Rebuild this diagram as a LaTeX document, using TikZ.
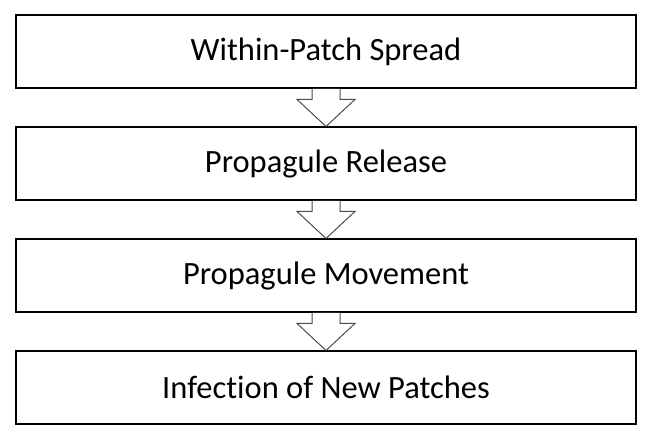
\documentclass[tikz,border=0pt]{standalone}
\usepackage{fontspec}
\setmainfont{Carlito}[Ligatures=NoCommon]
\begin{document}
\begin{tikzpicture}[x=1pt,y=-1pt,
  stagebox/.style={draw=black,line width=1.4pt,fill=white,minimum width=620pt,minimum height=73pt,inner sep=0pt,font=\fontsize{32.5}{38}\selectfont,anchor=north},
  flowarrow/.style={draw=black!70,line width=1pt,fill=white,line join=miter}]
  \useasboundingbox (0,0) rectangle (657,438);
  \node[stagebox] (s1) at (326,14.5) {Within-Patch Spread};
  \node[stagebox] (s2) at (326,126.5) {Propagule Release};
  \node[stagebox] (s3) at (326,238.5) {Propagule Movement};
  \node[stagebox] (s4) at (326,350.5) {Infection of New Patches};
  % hollow block arrows between consecutive stages
  \foreach \a/\b in {s1/s2,s2/s3,s3/s4}{
    \draw[flowarrow] ([xshift=-14pt]\a.south) -- ++(0,10.5) -- ++(-15,0)
      -- (\b.north) -- ([xshift=29pt,yshift=-10.5pt]\a.south) -- ++(-15,0)
      -- ([xshift=14pt]\a.south);
  }
\end{tikzpicture}
\end{document}
